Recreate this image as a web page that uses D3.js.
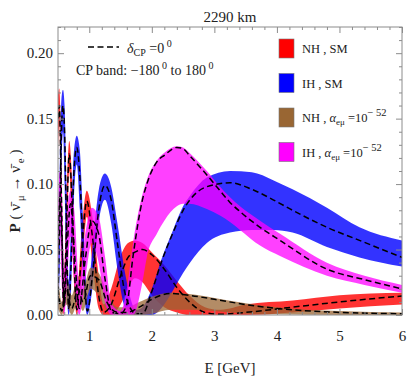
<!DOCTYPE html>
<html>
<head>
<meta charset="utf-8">
<script src="https://cdn.jsdelivr.net/npm/d3@7"></script>
<style>
  body { margin: 0; background: #fff; }
  text { font-family: "Liberation Serif", "DejaVu Serif", serif; fill: #222; }
</style>
</head>
<body>
<div id="chart"></div>
<script>
// energies (GeV) and band edges, per case
const nhSmE   = [0.50, 0.52, 0.555, 0.59, 0.635, 0.68, 0.73, 0.80, 0.88, 0.96, 1.05, 1.15, 1.23, 1.35, 1.50, 1.62, 1.73, 1.85, 2.00, 2.20, 2.40, 2.60, 2.85, 3.10, 3.50, 4.25, 5.00, 6.00];
const nhSmLo  = [0.125, 0.145, 0.06, 0, 0.04, 0.11, 0.05, 0, 0.03, 0.075, 0.04, 0.005, 0, 0, 0.008, 0.02, 0.028, 0.025, 0.015, 0.006, 0.002, 0, 0, 0, 0, 0.002, 0.005, 0.008];
const nhSmHi  = [0.168, 0.173, 0.12, 0.02, 0.09, 0.133, 0.10, 0.015, 0.065, 0.095, 0.075, 0.03, 0.008, 0.02, 0.045, 0.055, 0.057, 0.055, 0.048, 0.038, 0.026, 0.015, 0.006, 0.004, 0.008, 0.011, 0.015, 0.017];
const nhSmMid = [0.15, 0.16, 0.09, 0.005, 0.065, 0.123, 0.08, 0.004, 0.05, 0.087, 0.06, 0.015, 0.002, 0.008, 0.03, 0.044, 0.048, 0.050, 0.046, 0.035, 0.021, 0.01, 0.002, 0.0005, 0.002, 0.006, 0.010, 0.0145];

const ihSmE   = [0.50, 0.53, 0.555, 0.58, 0.605, 0.635, 0.67, 0.71, 0.755, 0.80, 0.85, 0.90, 0.97, 1.05, 1.15, 1.25, 1.35, 1.45, 1.58, 1.75, 1.85, 2.00, 2.15, 2.34, 2.50, 2.61, 2.88, 3.25, 3.60, 3.94, 4.25, 4.80, 5.32, 6.00];
const ihSmLo  = [0, 0.04, 0.11, 0.14, 0.10, 0.03, 0, 0.02, 0.09, 0.115, 0.08, 0.03, 0, 0.02, 0.07, 0.088, 0.07, 0.035, 0.005, 0, 0, 0, 0.005, 0.019, 0.032, 0.040, 0.055, 0.063, 0.065, 0.065, 0.063, 0.052, 0.044, 0.037];
const ihSmHi  = [0.04, 0.12, 0.165, 0.172, 0.16, 0.10, 0.025, 0.07, 0.125, 0.137, 0.125, 0.075, 0.015, 0.05, 0.095, 0.108, 0.098, 0.07, 0.03, 0.004, 0.006, 0.02, 0.042, 0.065, 0.083, 0.091, 0.105, 0.110, 0.109, 0.103, 0.096, 0.082, 0.067, 0.057];
const ihSmMid = [0.01, 0.08, 0.14, 0.16, 0.14, 0.07, 0.005, 0.04, 0.11, 0.128, 0.105, 0.05, 0.003, 0.03, 0.08, 0.099, 0.088, 0.055, 0.015, 0.001, 0.001, 0.018, 0.040, 0.063, 0.080, 0.088, 0.098, 0.101, 0.096, 0.088, 0.080, 0.067, 0.057, 0.044];

const nhAlE   = [0.50, 0.56, 0.63, 0.72, 0.82, 0.90, 1.02, 1.15, 1.28, 1.45, 1.60, 1.80, 2.00, 2.30, 2.60, 3.00, 3.50, 4.00, 5.00, 6.00];
const nhAlLo  = [0.005, 0, 0.008, 0, 0.01, 0.003, 0.02, 0.015, 0.003, 0, 0, 0, 0.001, 0.004, 0.004, 0.003, 0.001, 0.0005, 0, 0];
const nhAlHi  = [0.03, 0.01, 0.03, 0.015, 0.03, 0.02, 0.036, 0.032, 0.018, 0.006, 0.006, 0.010, 0.014, 0.017, 0.016, 0.013, 0.009, 0.006, 0.003, 0.002];
const nhAlMid = [0.02, 0.003, 0.02, 0.005, 0.02, 0.01, 0.03, 0.027, 0.01, 0.002, 0.002, 0.006, 0.012, 0.0165, 0.015, 0.012, 0.008, 0.005, 0.002, 0.001];

const ihAlE   = [0.50, 0.53, 0.565, 0.60, 0.65, 0.70, 0.76, 0.84, 0.93, 1.04, 1.15, 1.25, 1.36, 1.50, 1.60, 1.70, 1.85, 1.92, 2.08, 2.20, 2.40, 2.50, 2.60, 2.88, 3.09, 3.25, 3.41, 3.73, 4.05, 4.80, 5.40, 6.00];
const ihAlLo  = [0.03, 0.06, 0.02, 0, 0.03, 0.06, 0.025, 0, 0.025, 0.055, 0.04, 0.01, 0, 0, 0, 0, 0.025, 0.044, 0.062, 0.072, 0.083, 0.085, 0.085, 0.081, 0.076, 0.071, 0.065, 0.053, 0.045, 0.030, 0.023, 0.017];
const ihAlHi  = [0.08, 0.11, 0.09, 0.035, 0.08, 0.095, 0.08, 0.025, 0.06, 0.082, 0.075, 0.045, 0.008, 0.003, 0.02, 0.055, 0.092, 0.103, 0.118, 0.124, 0.129, 0.128, 0.124, 0.110, 0.098, 0.090, 0.083, 0.072, 0.062, 0.040, 0.030, 0.023];
const ihAlMid = [0.05, 0.09, 0.055, 0.008, 0.055, 0.085, 0.05, 0.005, 0.04, 0.072, 0.062, 0.028, 0.002, 0.001, 0.008, 0.045, 0.088, 0.100, 0.117, 0.122, 0.128, 0.127, 0.122, 0.107, 0.095, 0.086, 0.079, 0.067, 0.057, 0.035, 0.027, 0.020];

const xTicks = [1, 2, 3, 4, 5, 6];
const yTicks = [0, 0.05, 0.10, 0.15, 0.20];

// set the dimensions
const width = 409,
  height = 382;
const plotLeft = 58, plotRight = 402, plotTop = 27, plotBottom = 315;

const x = d3.scaleLinear().domain([0.5, 6]).range([plotLeft, plotRight]);
const y = d3.scaleLinear().domain([0, 0.22]).range([plotBottom, plotTop]);

const svg = d3
  .select("#chart")
  .append("svg")
  .attr("width", width)
  .attr("height", height);

svg.append("defs")
  .append("clipPath")
  .attr("id", "plot-clip")
  .append("rect")
  .attr("x", plotLeft)
  .attr("y", plotTop)
  .attr("width", plotRight - plotLeft)
  .attr("height", plotBottom - plotTop);

const zip = (es, lo, hi, mid) => es.map((e, i) => ({ e, lo: lo[i], hi: hi[i], mid: mid[i] }));

// drawing order: red, blue, brown, magenta
const series = [
  { data: zip(nhSmE, nhSmLo, nhSmHi, nhSmMid), color: "#ff0000", op: 0.8 },
  { data: zip(ihSmE, ihSmLo, ihSmHi, ihSmMid), color: "#0000ff", op: 0.8 },
  { data: zip(nhAlE, nhAlLo, nhAlHi, nhAlMid), color: "#996633", op: 0.75 },
  { data: zip(ihAlE, ihAlLo, ihAlHi, ihAlMid), color: "#ff00ff", op: 0.75 },
];

const band = d3
  .area()
  .x((d) => x(d.e))
  .y0((d) => y(d.lo))
  .y1((d) => y(d.hi))
  .curve(d3.curveMonotoneX);

const centre = d3
  .line()
  .x((d) => x(d.e))
  .y((d) => y(d.mid))
  .curve(d3.curveMonotoneX);

const plot = svg.append("g").attr("clip-path", "url(#plot-clip)");

plot
  .selectAll("path.band")
  .data(series)
  .join("path")
  .attr("class", "band")
  .attr("d", (d) => band(d.data))
  .style("fill", (d) => d.color)
  .style("fill-opacity", (d) => d.op);

plot
  .selectAll("path.mid")
  .data(series)
  .join("path")
  .attr("class", "mid")
  .attr("d", (d) => centre(d.data))
  .style("fill", "none")
  .style("stroke", "#000")
  .style("stroke-width", 1.5)
  .style("stroke-dasharray", "6,3.5");

// frame with ticks on every side
const frameColor = "#8c8c8c";
const minorX = d3.range(0.6, 6.001, 0.2).filter((v) => Math.abs(v - Math.round(v)) > 1e-6);
const minorY = d3.range(0.01, 0.2201, 0.01).filter((v) => Math.abs(v * 20 - Math.round(v * 20)) > 1e-6);

const axisStyle = (g) => {
  g.select(".domain").remove();
  g.selectAll("line").attr("stroke", frameColor);
  g.selectAll("text").style("font-size", "15px").attr("fill", "#222");
};

svg.append("g").attr("transform", `translate(0,${plotBottom})`)
  .call(d3.axisBottom(x).tickValues(xTicks).tickSizeInner(-6).tickSizeOuter(0).tickPadding(15).tickFormat(d3.format("d")))
  .call(axisStyle);
svg.append("g").attr("transform", `translate(0,${plotBottom})`)
  .call(d3.axisBottom(x).tickValues(minorX).tickSizeInner(-3).tickSizeOuter(0).tickFormat(""))
  .call(axisStyle);
svg.append("g").attr("transform", `translate(0,${plotTop})`)
  .call(d3.axisTop(x).tickValues(xTicks).tickSizeInner(-6).tickSizeOuter(0).tickFormat(""))
  .call(axisStyle);
svg.append("g").attr("transform", `translate(0,${plotTop})`)
  .call(d3.axisTop(x).tickValues(minorX).tickSizeInner(-3).tickSizeOuter(0).tickFormat(""))
  .call(axisStyle);
svg.append("g").attr("transform", `translate(${plotLeft},0)`)
  .call(d3.axisLeft(y).tickValues(yTicks).tickSizeInner(-6).tickSizeOuter(0).tickPadding(5).tickFormat(d3.format(".2f")))
  .call(axisStyle);
svg.append("g").attr("transform", `translate(${plotLeft},0)`)
  .call(d3.axisLeft(y).tickValues(minorY).tickSizeInner(-3).tickSizeOuter(0).tickFormat(""))
  .call(axisStyle);
svg.append("g").attr("transform", `translate(${plotRight},0)`)
  .call(d3.axisRight(y).tickValues(yTicks).tickSizeInner(-6).tickSizeOuter(0).tickFormat(""))
  .call(axisStyle);
svg.append("g").attr("transform", `translate(${plotRight},0)`)
  .call(d3.axisRight(y).tickValues(minorY).tickSizeInner(-3).tickSizeOuter(0).tickFormat(""))
  .call(axisStyle);

svg.append("rect")
  .attr("x", plotLeft)
  .attr("y", plotTop)
  .attr("width", plotRight - plotLeft)
  .attr("height", plotBottom - plotTop)
  .style("fill", "none")
  .style("stroke", frameColor)
  .style("stroke-width", 1);

// titles
svg.append("text")
  .attr("x", 230)
  .attr("y", 22)
  .attr("text-anchor", "middle")
  .style("font-size", "15px")
  .text("2290 km");

svg.append("text")
  .attr("x", 230)
  .attr("y", 373)
  .attr("text-anchor", "middle")
  .style("font-size", "15px")
  .text("E [GeV]");

const yLab = svg.append("text")
  .attr("transform", "translate(20,191) rotate(-90)")
  .attr("text-anchor", "middle")
  .style("font-size", "15px");
yLab.append("tspan").style("font-weight", "bold").text("P");
yLab.append("tspan").text(" ( ");
yLab.append("tspan").text("\u03BD\u0304");
yLab.append("tspan").attr("dy", 4).style("font-size", "11px").text(" \u03BC");
yLab.append("tspan").attr("dy", -4).text(" \u2192 ");
yLab.append("tspan").text("\u03BD\u0304");
yLab.append("tspan").attr("dy", 4).style("font-size", "11px").text(" e");
yLab.append("tspan").attr("dy", -4).text(" )");

// left legend
svg.append("line")
  .attr("x1", 88).attr("x2", 119)
  .attr("y1", 47).attr("y2", 47)
  .style("stroke", "#000")
  .style("stroke-width", 1.5)
  .style("stroke-dasharray", "6,3.5");

const dl = svg.append("text").attr("x", 127).attr("y", 53).style("font-size", "14px");
dl.append("tspan").style("font-style", "italic").text("\u03B4");
dl.append("tspan").attr("dy", 3).style("font-size", "10px").text("CP");
dl.append("tspan").attr("dy", -3).text(" =0");
dl.append("tspan").attr("dy", -6).style("font-size", "10px").text(" 0");

const cp = svg.append("text").attr("x", 76).attr("y", 75).style("font-size", "14px");
cp.append("tspan").text("CP  band: \u2212180");
cp.append("tspan").attr("dy", -6).style("font-size", "10px").text(" 0");
cp.append("tspan").attr("dy", 6).text("  to  180");
cp.append("tspan").attr("dy", -6).style("font-size", "10px").text(" 0");

// right legend
const legendNames = ["NH , SM", "IH , SM", "NH , ", "IH , "];
const legendColors = ["#ff0000", "#0000ff", "#996633", "#ff00ff"];

const lg = svg.selectAll("g.leg")
  .data(legendNames)
  .join("g")
  .attr("class", "leg")
  .attr("transform", (d, i) => `translate(279,${39 + i * 34.5})`);

lg.append("rect")
  .attr("width", 15)
  .attr("height", 19)
  .style("fill", (d, i) => legendColors[i])
  .style("stroke", "#777")
  .style("stroke-width", 0.6);

lg.append("text")
  .attr("x", 23)
  .attr("y", 14)
  .style("font-size", "12.5px")
  .each(function (d, i) {
    const t = d3.select(this);
    t.append("tspan").text(d);
    if (i >= 2) {
      t.append("tspan").style("font-style", "italic").text("\u03B1");
      t.append("tspan").attr("dy", 3).style("font-size", "9px").text("e\u03BC");
      t.append("tspan").attr("dy", -3).text(" =10");
      t.append("tspan").attr("dy", -6).style("font-size", "10.5px").text("\u2212 52");
    }
  });
</script>
</body>
</html>
